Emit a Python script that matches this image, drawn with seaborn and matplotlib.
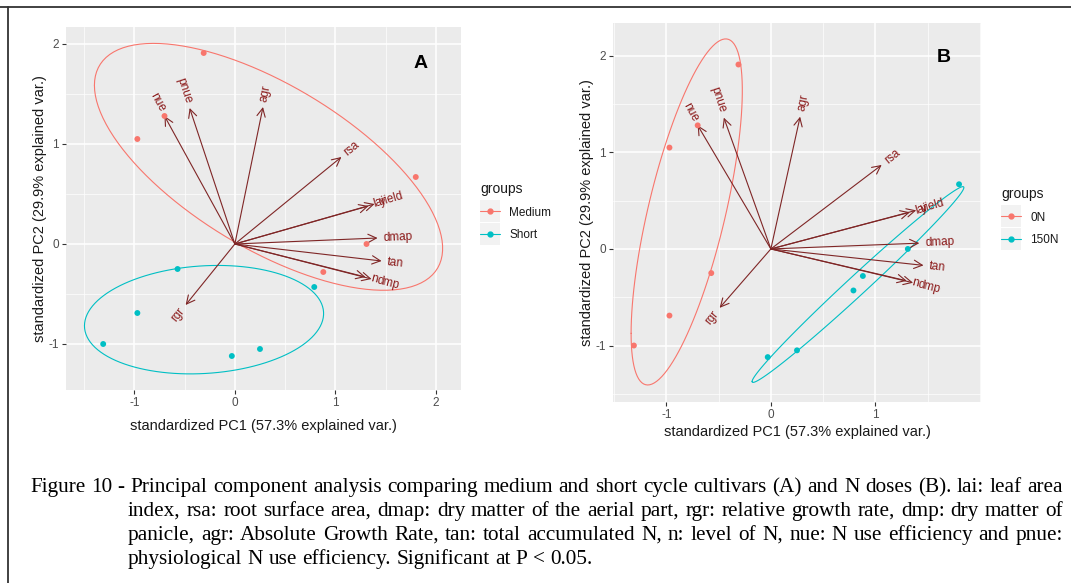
import numpy as np
import pandas as pd
import matplotlib
matplotlib.use("Agg")
import matplotlib.pyplot as plt
from matplotlib.lines import Line2D
from matplotlib.patches import Rectangle
from matplotlib.ticker import MultipleLocator
import seaborn as sns

# PCA scores (standardized PC1 / PC2), same observations in both panels
pc1 = [-0.31, -0.97, -0.70, 1.80, 1.31, 0.88, -0.57, 0.79, -0.97, -1.31, -0.03, 0.25]
pc2 = [1.91, 1.05, 1.28, 0.67, 0.00, -0.28, -0.25, -0.43, -0.69, -1.00, -1.12, -1.05]
cycle = ['Medium'] * 6 + ['Short'] * 6
dose = ['0N', '0N', '0N', '150N', '150N', '150N', '0N', '150N', '0N', '0N', '150N', '150N']

# variable loadings (arrow tips)
var_names = ['nue', 'pnue', 'agr', 'rsa', 'yield', 'lai', 'dmap', 'tan', 'dmp', 'n', 'rgr']
load_pc1 = [-0.70, -0.45, 0.28, 1.06, 1.39, 1.33, 1.42, 1.46, 1.36, 1.30, -0.49]
load_pc2 = [1.28, 1.36, 1.37, 0.87, 0.40, 0.38, 0.06, -0.17, -0.35, -0.33, -0.61]

xlab = 'standardized PC1 (57.3% explained var.)'
ylab = 'standardized PC2 (29.9% explained var.)'

caption = [
    "Figure 10 - Principal component analysis comparing medium and short cycle cultivars (A) and N doses (B). lai: leaf area",
    "index, rsa: root surface area, dmap: dry matter of the aerial part, rgr: relative growth rate, dmp: dry matter of",
    "panicle, agr: Absolute Growth Rate, tan: total accumulated N, n: level of N, nue: N use efficiency and pnue:",
    "physiological N use efficiency. Significant at P < 0.05.",
]

palette = ['#F8766D', '#00BFC4']
arrow_col = '#7f2626'
label_col = '#8B1a1a'

sns.set_style("darkgrid")
plt.rcParams['font.family'] = ['Liberation Sans', 'DejaVu Sans']
plt.rcParams['axes.unicode_minus'] = False

W, H = 1071, 583
fig = plt.figure(figsize=(W / 100, H / 100), dpi=100)
fig.patch.set_facecolor('white')


def group_ellipse(x, y, prob=0.68, n=120):
    # same construction as ggbiplot: circle %*% chol(sigma) * sqrt(qchisq(p, 2)) + mu
    xy = np.column_stack([x, y])
    mu = xy.mean(axis=0)
    sigma = np.cov(xy, rowvar=False)
    r = np.sqrt(-2 * np.log(1 - prob))
    t = np.linspace(-np.pi, np.pi, n)
    circle = np.column_stack([np.cos(t), np.sin(t)])
    upper = np.linalg.cholesky(sigma).T
    return circle @ upper * r + mu


def draw_biplot(rect, groups, order, xlim, ylim, xticks, tag, tag_pos, leg_anchor, xpad):
    ax = fig.add_axes(rect)
    df = pd.DataFrame({'PC1': pc1, 'PC2': pc2, 'groups': groups})
    ax.set_facecolor('#EBEBEB')
    ax.set_xlim(*xlim)
    ax.set_ylim(*ylim)
    ax.set_xticks(xticks)
    ax.set_yticks([-1, 0, 1, 2])
    ax.xaxis.set_minor_locator(MultipleLocator(0.5))
    ax.yaxis.set_minor_locator(MultipleLocator(0.5))
    ax.grid(which='major', color='white', lw=1.1)
    ax.grid(which='minor', color='white', lw=0.5)
    ax.set_axisbelow(True)
    for s in ax.spines.values():
        s.set_visible(False)
    ax.tick_params(which='major', bottom=True, left=True, length=3, width=0.8,
                   color='#333333', labelcolor='#4D4D4D', labelsize=8.5, pad=2)
    ax.tick_params(which='minor', length=0)

    # arrows
    for name, lx, ly in zip(var_names, load_pc1, load_pc2):
        ax.annotate('', xy=(lx, ly), xytext=(0, 0),
                    arrowprops=dict(arrowstyle='->,head_length=0.6,head_width=0.3',
                                    color=arrow_col, lw=0.8, shrinkA=0, shrinkB=0))
        ang = np.degrees(np.arctan(ly / lx))
        norm = np.hypot(lx, ly)
        off = (4 * lx / norm, 4 * ly / norm)
        ax.annotate(name, xy=(lx, ly), xytext=off, textcoords='offset points',
                    rotation=ang, rotation_mode='anchor',
                    ha='left' if lx > 0 else 'right', va='center',
                    fontsize=8.5, color=label_col)

    # ellipses
    for g, c in zip(order, palette):
        sub = df[df['groups'] == g]
        e = group_ellipse(sub['PC1'], sub['PC2'])
        ax.plot(e[:, 0], e[:, 1], color=c, lw=0.8)

    sns.scatterplot(data=df, x='PC1', y='PC2', hue='groups', hue_order=order,
                    palette=palette, s=18, linewidth=0, ax=ax, legend=False, zorder=3)

    ax.set_xlabel(xlab, fontsize=10.5, color='#1a1a1a', labelpad=xpad)
    ax.set_ylabel(ylab, fontsize=10.5, color='#1a1a1a', labelpad=1)
    ax.text(tag_pos[0], tag_pos[1], tag, transform=ax.transAxes, fontsize=14,
            fontweight='bold', color='black', ha='center', va='center')

    handles = [Line2D([], [], color=c, lw=0.8, marker='o', markersize=3.5) for c in palette]
    leg = ax.legend(handles, order, title='groups', loc='upper left',
                    bbox_to_anchor=leg_anchor, bbox_transform=fig.transFigure,
                    frameon=False, fontsize=8.5, title_fontsize=10, handlelength=1.7,
                    handletextpad=0.8, labelspacing=0.9, alignment='left', borderpad=0)
    for t in leg.get_texts():
        t.set_color('#1a1a1a')
    leg.get_title().set_color('#1a1a1a')
    return ax, leg


ax_a, leg_a = draw_biplot([66 / W, 1 - 390 / H, 395 / W, 363 / H], cycle, ['Medium', 'Short'],
                          (-1.68, 2.25), (-1.46, 2.17), [-1, 0, 1, 2], 'A',
                          (0.898, 0.9), (474 / W, 1 - 176 / H), 7)
ax_b, leg_b = draw_biplot([613 / W, 1 - 402 / H, 368 / W, 379 / H], dose, ['0N', '150N'],
                          (-1.51, 2.01), (-1.585, 2.34), [-1, 0, 1], 'B',
                          (0.90, 0.91), (995 / W, 1 - 181 / H), 3)

# figure frame (top and left rules)
fig.add_artist(Line2D([0, 1], [1 - 6.5 / H, 1 - 6.5 / H], transform=fig.transFigure,
                      color='#333333', lw=1.3))
fig.add_artist(Line2D([8 / W, 8 / W], [0, 1 - 6.5 / H], transform=fig.transFigure,
                      color='#333333', lw=1.3))

fig.canvas.draw()
renderer = fig.canvas.get_renderer()

# grey key backgrounds behind the legend glyphs, as in ggplot
for leg in (leg_a, leg_b):
    for h in leg.legend_handles:
        bb = h.get_window_extent(renderer)
        cx, cy = (bb.x0 + bb.x1) / 2, (bb.y0 + bb.y1) / 2
        fig.patches.append(Rectangle(((cx - 10) / W, (cy - 11) / H), 20 / W, 22 / H,
                                     transform=fig.transFigure, facecolor='#F2F2F2',
                                     edgecolor='none', zorder=-1))

# justified caption
serif = 'Liberation Serif'


def text_width(s, fs):
    t = fig.text(0, 0, s, fontsize=fs, family=serif)
    w = t.get_window_extent(renderer).width
    t.remove()
    return w


x_first, x_indent, x_right = 30, 128, 1063
fs = 15.0
fs = fs * (x_right - x_first) / text_width(caption[0], fs)
space_w = text_width('a a', fs) - text_width('aa', fs)
baselines = [492, 516, 540, 564]

for i, line in enumerate(caption):
    x0 = x_first if i == 0 else x_indent
    words = line.split(' ')
    widths = [text_width(w, fs) for w in words]
    if i < len(caption) - 1:
        gap = (x_right - x0 - sum(widths)) / (len(words) - 1)
    else:
        gap = space_w
    x = x0
    for w, wd in zip(words, widths):
        fig.text(x / W, 1 - baselines[i] / H, w, fontsize=fs, family=serif,
                 ha='left', va='baseline', color='black')
        x += wd + gap

fig.savefig('out.png', dpi=100, facecolor='white')
